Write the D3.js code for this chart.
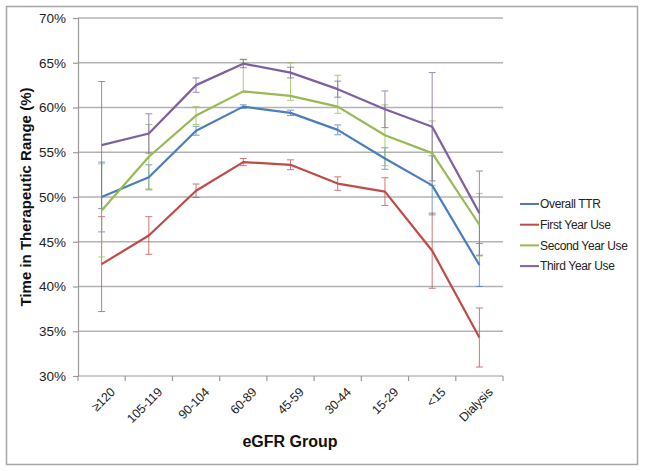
<!DOCTYPE html>
<html>
<head>
<meta charset="utf-8">
<script src="https://cdn.jsdelivr.net/npm/d3@7"></script>
<style>
  body { margin: 0; background: #fff; }
  svg { display: block; font-family: "Liberation Sans", Arial, Helvetica, sans-serif; }
</style>
</head>
<body>
<svg id="chart" width="645" height="471"></svg>
<script>
// ---- data ----
const categories = ["≥120", "105-119", "90-104", "60-89", "45-59", "30-44", "15-29", "<15", "Dialysis"];
const yTicks = [30, 35, 40, 45, 50, 55, 60, 65, 70];

const overallTTR      = [50.0, 52.2, 57.4, 60.1, 59.4, 57.5, 54.3, 51.3, 42.4];
const overallPlus     = [3.9, 1.4, 0.5, 0.2, 0.3, 0.55, 1.2, 3.3, 2.4];
const overallMinus    = [3.9, 1.4, 0.5, 0.2, 0.3, 0.55, 1.2, 3.3, 2.4];

const firstYear       = [42.5, 45.7, 50.7, 53.9, 53.6, 51.5, 50.6, 44.0, 34.3];
const firstPlus       = [5.3, 2.1, 0.75, 0.4, 0.55, 0.75, 1.55, 4.2, 3.3];
const firstMinus      = [5.3, 2.1, 0.75, 0.4, 0.55, 0.75, 1.55, 4.2, 3.3];

const secondYear      = [48.5, 54.5, 59.1, 61.8, 61.3, 60.1, 56.9, 54.9, 46.9];
const secondPlus      = [5.2, 3.6, 1.0, 3.6, 3.7, 3.5, 3.4, 3.6, 3.5];
const secondMinus     = [5.2, 3.6, 1.0, 0.1, 0.5, 0.75, 3.4, 3.6, 3.5];

const thirdYear       = [55.8, 57.1, 62.5, 64.9, 63.9, 62.05, 59.8, 57.85, 48.2];
const thirdPlus       = [7.1, 2.2, 0.8, 0.45, 0.6, 0.9, 2.05, 6.05, 4.7];
const thirdMinus      = [7.1, 2.2, 0.8, 0.45, 0.6, 0.9, 2.05, 6.05, 4.7];

const seriesNames  = ["Overall TTR", "First Year Use", "Second Year Use", "Third Year Use"];
const seriesColors = ["#4A7EBB", "#BE4B48", "#98B954", "#7D60A0"];

const series = [
  { name: seriesNames[0], color: seriesColors[0], values: overallTTR, plus: overallPlus, minus: overallMinus },
  { name: seriesNames[1], color: seriesColors[1], values: firstYear,  plus: firstPlus,   minus: firstMinus },
  { name: seriesNames[2], color: seriesColors[2], values: secondYear, plus: secondPlus,  minus: secondMinus },
  { name: seriesNames[3], color: seriesColors[3], values: thirdYear,  plus: thirdPlus,   minus: thirdMinus }
];

// ---- layout ----
const svg = d3.select("#chart");
const plot = { left: 78, right: 503, top: 18, bottom: 376 };

// outer frame
svg.append("rect")
  .attr("x", 6.5).attr("y", 6.5).attr("width", 631).attr("height", 458)
  .attr("fill", "#fff").attr("stroke", "#a6a6a6").attr("stroke-width", 1.5);

const x = d3.scaleBand().domain(categories).range([plot.left, plot.right]).padding(0);
const y = d3.scaleLinear().domain([30, 70]).range([plot.bottom, plot.top]);
const cx = c => x(c) + x.bandwidth() / 2;

// gridlines
svg.append("g").selectAll("line").data(yTicks.filter(t => t > 30)).join("line")
  .attr("x1", plot.left).attr("x2", plot.right)
  .attr("y1", d => y(d)).attr("y2", d => y(d))
  .attr("stroke", "#b3b3b3").attr("stroke-width", 1.4);

// y axis
const yAxis = d3.axisLeft(y).tickValues(yTicks).tickFormat(d => d + "%").tickSize(5).tickPadding(7);
const gy = svg.append("g").attr("transform", `translate(${plot.left},0)`).call(yAxis);
gy.select(".domain").attr("stroke", "#9a9a9a").attr("stroke-width", 1.2);
gy.selectAll(".tick line").attr("stroke", "#9a9a9a").attr("stroke-width", 1.2);
gy.selectAll(".tick text").attr("font-size", 13.5).attr("fill", "#222")
  .attr("font-family", "'Liberation Sans', Arial, sans-serif");

// x axis (ticks at category boundaries)
const gx = svg.append("g").attr("transform", `translate(0,${plot.bottom})`);
gx.append("line").attr("x1", plot.left).attr("x2", plot.right).attr("y1", 0).attr("y2", 0)
  .attr("stroke", "#9a9a9a").attr("stroke-width", 1.2);
const bounds = categories.map(c => x(c)).concat([plot.right]);
gx.selectAll("line.tk").data(bounds).join("line").attr("class", "tk")
  .attr("x1", d => d).attr("x2", d => d).attr("y1", 0).attr("y2", 5)
  .attr("stroke", "#9a9a9a").attr("stroke-width", 1.2);
gx.selectAll("text").data(categories).join("text")
  .attr("transform", d => `translate(${cx(d) + 7},${10}) rotate(-45)`)
  .attr("text-anchor", "end").attr("dy", "0.8em")
  .attr("font-size", 12.5).attr("letter-spacing", -0.2).attr("fill", "#222")
  .text(d => d);

// error bars
const capW = 3.5;
series.forEach(s => {
  const g = svg.append("g").attr("stroke", s.color).attr("stroke-width", 1).attr("opacity", 0.75);
  const data = categories.map((c, i) => ({ c, lo: s.values[i] - s.minus[i], hi: s.values[i] + s.plus[i] }));
  g.selectAll("line.v").data(data).join("line").attr("class", "v")
    .attr("x1", d => cx(d.c)).attr("x2", d => cx(d.c))
    .attr("y1", d => y(d.lo)).attr("y2", d => y(d.hi));
  g.selectAll("line.t").data(data).join("line").attr("class", "t")
    .attr("x1", d => cx(d.c) - capW).attr("x2", d => cx(d.c) + capW)
    .attr("y1", d => y(d.hi)).attr("y2", d => y(d.hi));
  g.selectAll("line.b").data(data).join("line").attr("class", "b")
    .attr("x1", d => cx(d.c) - capW).attr("x2", d => cx(d.c) + capW)
    .attr("y1", d => y(d.lo)).attr("y2", d => y(d.lo));
});

// lines
const line = d3.line().x(d => cx(d.c)).y(d => y(d.v));
series.forEach(s => {
  svg.append("path")
    .datum(categories.map((c, i) => ({ c, v: s.values[i] })))
    .attr("fill", "none").attr("stroke", s.color).attr("stroke-width", 2.2)
    .attr("stroke-linejoin", "round")
    .attr("d", line);
});

// axis titles
svg.append("text")
  .attr("transform", `translate(31,${(plot.top + plot.bottom) / 2}) rotate(-90)`)
  .attr("text-anchor", "middle").attr("font-size", 15).attr("font-weight", "bold").attr("fill", "#111")
  .text("Time in Therapeutic Range (%)");
svg.append("text")
  .attr("x", 290).attr("y", 447)
  .attr("text-anchor", "middle").attr("font-size", 16).attr("font-weight", "bold").attr("fill", "#111")
  .text("eGFR Group");

// legend
const leg = svg.append("g").attr("transform", "translate(520,204)");
const li = leg.selectAll("g").data(series).join("g")
  .attr("transform", (d, i) => `translate(0,${i * 20.7})`);
li.append("line").attr("x1", 0).attr("x2", 19).attr("y1", 0).attr("y2", 0)
  .attr("stroke", d => d.color).attr("stroke-width", 2);
li.append("text").attr("x", 20).attr("y", 0).attr("dy", "0.35em")
  .attr("font-size", 12).attr("letter-spacing", -0.35).attr("fill", "#222").text(d => d.name);
</script>
</body>
</html>
